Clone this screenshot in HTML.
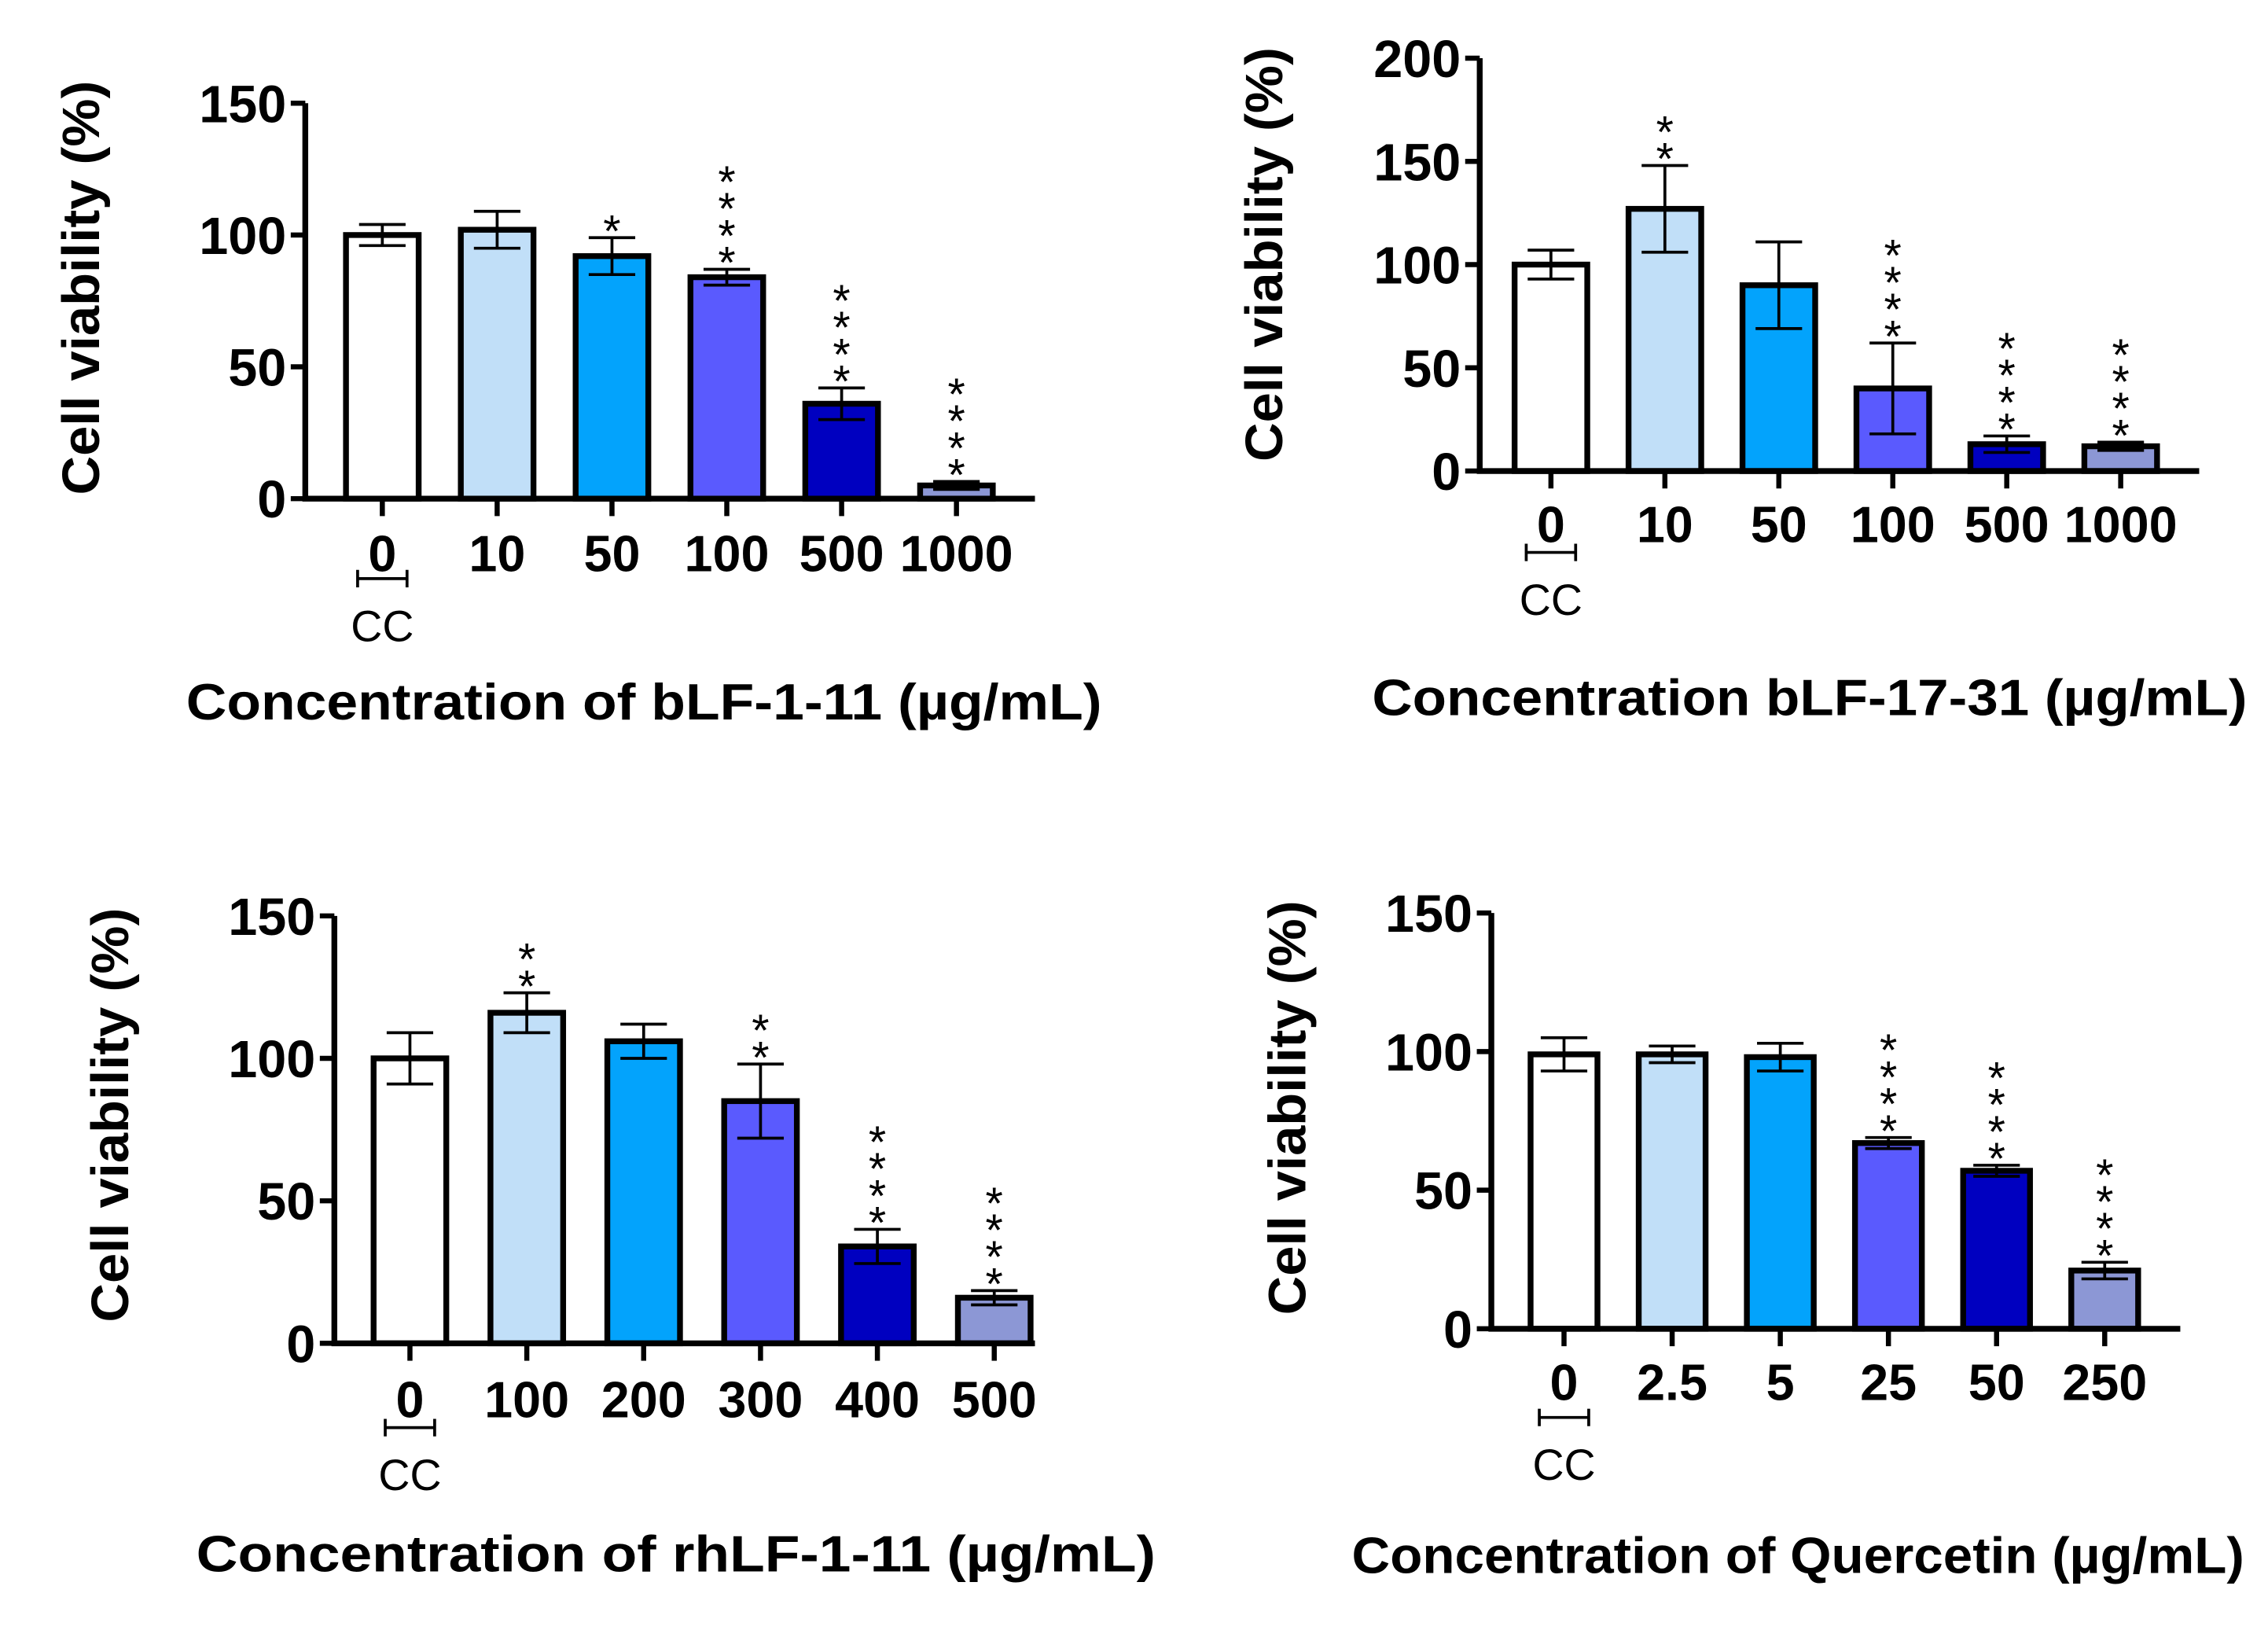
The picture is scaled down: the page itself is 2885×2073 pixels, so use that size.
<!DOCTYPE html>
<html><head><meta charset="utf-8"><style>
html,body{margin:0;padding:0;background:#fff;}
svg{display:block;}
text{font-family:"Liberation Sans",sans-serif;}
</style></head><body>
<svg id="fig" xmlns="http://www.w3.org/2000/svg" width="2885" height="2073" viewBox="0 0 1560.3 1121.2">
<rect width="1560.3" height="1121.2" fill="#fff"/>
</svg>
<script>
// Panel A data
const aCats = ["0","10","50","100","500","1000"];
const aVals = [100,102,92,84,36,5];
const aErrs = [4,7,7,3,6,1.5];
const aStars = [0,0,1,4,4,4];
const aTicks = [0,50,100,150];
// Panel B data
const bCats = ["0","10","50","100","500","1000"];
const bVals = [100,127,90,40,13,12];
const bErrs = [7,21,21,22,4,2];
const bStars = [0,2,0,4,4,4];
const bTicks = [0,50,100,150,200];
// Panel C data
const cCats = ["0","100","200","300","400","500"];
const cVals = [100,116,106,85,34,16];
const cErrs = [9,7,6,13,6,2.5];
const cStars = [0,2,0,2,4,4];
const cTicks = [0,50,100,150];
// Panel D data
const dCats = ["0","2.5","5","25","50","250"];
const dVals = [99,99,98,67,57,21];
const dErrs = [6,3,5,2,2,3];
const dStars = [0,0,0,4,4,4];
const dTicks = [0,50,100,150];
const colors = ["#ffffff","#c1dff8","#03a3fc","#5a5afe","#0000c0","#8c97d5"];

const NS="http://www.w3.org/2000/svg";
const svg=document.getElementById('fig');
function mk(tag,attrs,parent){const e=document.createElementNS(NS,tag);for(const k in attrs)e.setAttribute(k,attrs[k]);(parent||svg).appendChild(e);return e;}

function panel(cfg,cats,vals,errs,stars,ticks){
  const g=mk('g',{});
  
  
  const ymax=ticks[ticks.length-1];
  const y=v=>cfg.y0-(v/ymax)*(cfg.y0-cfg.yTop);
  const x=i=>cfg.x0c+i*cfg.step;
  const bw=cfg.bw;
  vals.forEach((v,i)=>{
    const r=mk('rect',{x:x(i)-bw/2,y:y(v),width:bw,height:cfg.y0-y(v),fill:colors[i],stroke:'#000','stroke-width':4},g);
    
    
    const top=y(v+errs[i]),bot=y(v-errs[i]);
    const eb=mk('path',{d:`M${x(i)} ${top}V${bot}M${x(i)-16} ${top}H${x(i)+16}M${x(i)-16} ${bot}H${x(i)+16}`,stroke:'#000','stroke-width':2,fill:'none'},g);
    
    
    for(let s=0;s<stars[i];s++){
      const t=mk('text',{x:x(i),y:top-8-(stars[i]-1-s)*18.5+14,'font-size':31,'text-anchor':'middle'},g);
      t.textContent='*';
      
      
    }
    mk('line',{x1:x(i),x2:x(i),y1:cfg.y0,y2:cfg.y0+12,stroke:'#000','stroke-width':3.5},g);
    const tl=mk('text',{x:x(i),y:cfg.labY,'font-size':35,'font-weight':'bold','text-anchor':'middle'},g);
    tl.textContent=cats[i];
    
    
  });
  const ax=mk('path',{d:`M${cfg.xAxis} ${cfg.yTop}V${cfg.y0}H${cfg.xEnd}`,stroke:'#000','stroke-width':4,fill:'none'},g);
  
  
  ticks.forEach(t=>{
    mk('line',{x1:cfg.xAxis-10,x2:cfg.xAxis,y1:y(t),y2:y(t),stroke:'#000','stroke-width':3.5},g);
    const tl=mk('text',{x:cfg.xAxis-13,y:y(t)+13,'font-size':36,'font-weight':'bold','text-anchor':'end'},g);
    tl.textContent=t;
    
    
  });
  const cx=x(0);
  mk('path',{d:`M${cx-17} ${cfg.ccY-6}V${cfg.ccY+6}M${cx-17} ${cfg.ccY}H${cx+17}M${cx+17} ${cfg.ccY-6}V${cfg.ccY+6}`,stroke:'#000','stroke-width':2,fill:'none'},g);
  const cc=mk('text',{x:cx,y:cfg.ccY+43,'font-size':30,'text-anchor':'middle'},g);
  cc.textContent='CC';
  
  
  const xt=mk('text',{x:cfg.xtX,y:cfg.xtY,'font-size':35,'font-weight':'bold','text-anchor':'middle',textLength:cfg.xtLen,lengthAdjust:'spacingAndGlyphs'},g);
  xt.textContent=cfg.xtitle;
  
  
  const yt=mk('text',{x:0,y:0,'font-size':36,'font-weight':'bold','text-anchor':'middle',textLength:285,lengthAdjust:'spacingAndGlyphs',transform:`translate(${cfg.ytX},${cfg.ytY}) rotate(-90)`},g);
  yt.textContent='Cell viability (%)';
  
  
}

panel({name:'panel-blf-1-11',xAxis:210,xEnd:712,y0:343,yTop:71,x0c:263,step:79,bw:50,labY:393,ccY:398,xtX:443,xtY:495,xtLen:630,xtitle:'Concentration of bLF-1-11 (µg/mL)',ytX:68,ytY:198},aCats,aVals,aErrs,aStars,aTicks);
panel({name:'panel-blf-17-31',xAxis:1018,xEnd:1513,y0:324,yTop:40,x0c:1067,step:78.4,bw:50,labY:373,ccY:380,xtX:1245,xtY:492,xtLen:602,xtitle:'Concentration bLF-17-31 (µg/mL)',ytX:882,ytY:175},bCats,bVals,bErrs,bStars,bTicks);
panel({name:'panel-rhlf-1-11',xAxis:230,xEnd:712,y0:924,yTop:630,x0c:282,step:80.4,bw:50,labY:975,ccY:982,xtX:465,xtY:1081,xtLen:660,xtitle:'Concentration of rhLF-1-11 (µg/mL)',ytX:88,ytY:767},cCats,cVals,cErrs,cStars,cTicks);
panel({name:'panel-quercetin',xAxis:1026,xEnd:1500,y0:914,yTop:628,x0c:1076,step:74.4,bw:46,labY:963,ccY:975,xtX:1237,xtY:1082,xtLen:614,xtitle:'Concentration of Quercetin (µg/mL)',ytX:898,ytY:762},dCats,dVals,dErrs,dStars,dTicks);
</script>
</body></html>
